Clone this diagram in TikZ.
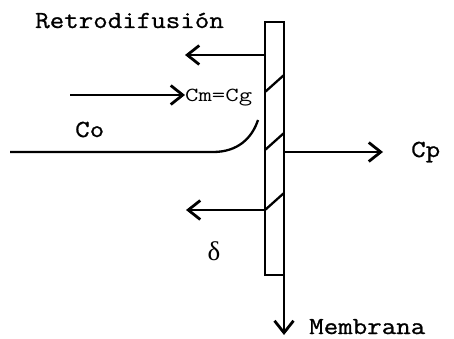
\documentclass[tikz,border=0pt]{standalone}
\usepackage{fontspec}
\newfontfamily\courier[FakeStretch=1.15, FakeBold=0.9]{Latin Modern Mono}
\newfontfamily\couriersmall[FakeStretch=1.3]{Latin Modern Mono}
\newfontfamily\greekserif{Liberation Serif}
\usepackage{tikz}
\usetikzlibrary{arrows.meta,positioning}
\tikzset{
  lbl/.style={font=\courier\fontsize{24.5}{26}\selectfont, inner sep=0pt},
  lblsmall/.style={font=\couriersmall\fontsize{20}{22}\selectfont, inner sep=0pt},
  line/.style={line width=2.3pt},
  arr/.style={line width=2.3pt, -{Straight Barb[length=12pt, width=19pt, line width=2.8pt]}},
  wall/.style={draw, line width=2.3pt, minimum width=19pt, minimum height=253pt,
               inner sep=0pt, outer sep=0pt},
}

\begin{document}
\begin{tikzpicture}[x=1pt, y=-1pt]
    \useasboundingbox (0,0) rectangle (454,339);
    % membrane
    \node[wall] (memb) at (274.5,148.5) {};
    \foreach \y in {92,150,210}
      \draw[line] (memb.west |- 0,\y) -- ++(19,-17);
    % labels
    \node[lbl, anchor=base west] (retro) at (35,28) {Retrodifusión};
    \node[lblsmall, anchor=base west] (cm) at (185,102) {Cm=Cg};
    \node[lbl, anchor=base west] (co) at (75,137) {Co};
    \node[lbl, anchor=base west] (cp) at (411,157) {Cp};
    \node[font=\greekserif\fontsize{27}{28}\selectfont, inner sep=0pt] (delta)
      at (214,251) {δ};
    \node[lbl, anchor=base west] (membl) at (309,334) {Membrana};
    % arrow ends
    \coordinate (backtop) at (185,55);
    \coordinate (backbot) at (186,210);
    \coordinate (feed) at (70,95);
    \coordinate (cpend) at (383,152);
    \coordinate (membend) at (284,335);
    \draw[arr] (memb.west |- backtop) -- (backtop);
    \draw[arr] (memb.west |- backbot) -- (backbot);
    \draw[arr] (feed) -- (cm.west |- feed);
    \draw[arr] (memb.east |- cpend) -- (cpend);
    \draw[arr] (memb.south east) -- (membend);
    % concentration profile
    \draw[line] (10,152) -- (213,152)
      .. controls (238,152) and (252,138) .. (258,120);
\end{tikzpicture}
\end{document}
